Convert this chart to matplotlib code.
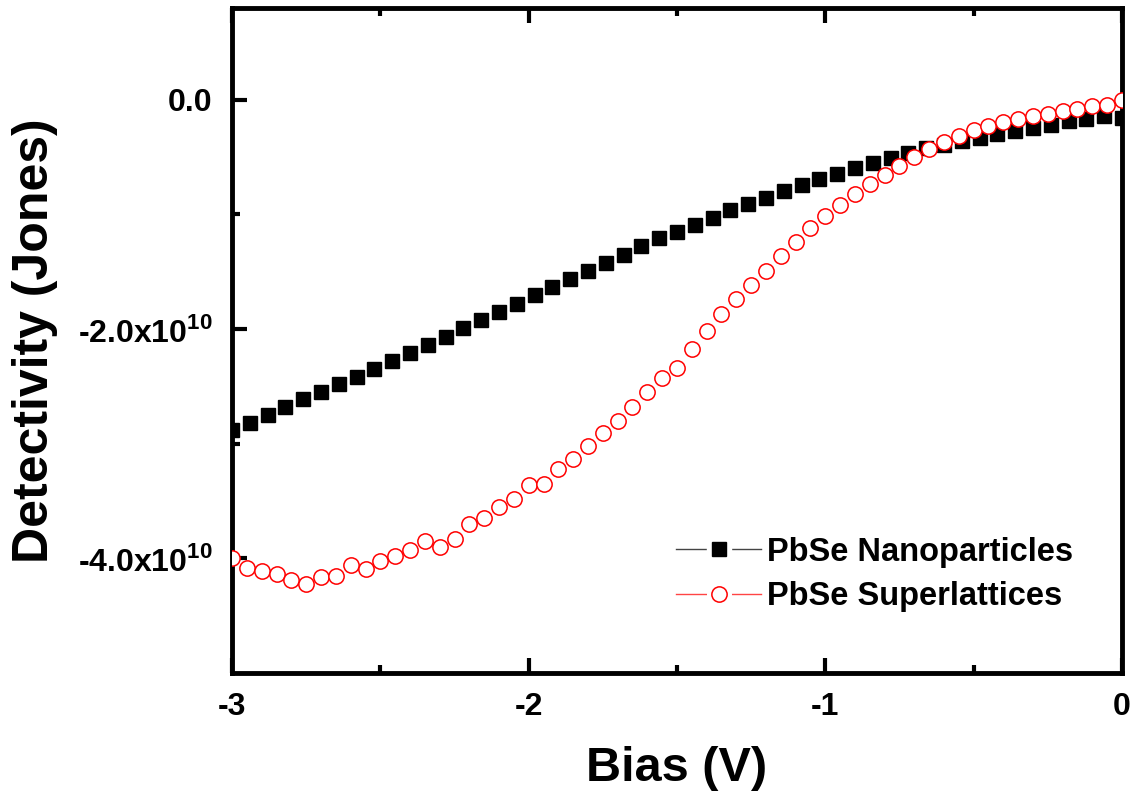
import matplotlib
matplotlib.use('Agg')
import matplotlib.pyplot as plt
from matplotlib.lines import Line2D
from matplotlib.legend_handler import HandlerTuple
from matplotlib.ticker import FixedLocator, FuncFormatter

plt.rcParams['font.family'] = ['Liberation Sans', 'DejaVu Sans']
plt.rcParams['font.weight'] = 'bold'
plt.rcParams['mathtext.fontset'] = 'custom'
plt.rcParams['mathtext.rm'] = 'Liberation Sans:bold'
plt.rcParams['mathtext.bf'] = 'Liberation Sans:bold'

# bias sweep (V)
bias_np = [-3.00, -2.94, -2.88, -2.82, -2.76, -2.70, -2.64, -2.58, -2.52, -2.46,
           -2.40, -2.34, -2.28, -2.22, -2.16, -2.10, -2.04, -1.98, -1.92, -1.86,
           -1.80, -1.74, -1.68, -1.62, -1.56, -1.50, -1.44, -1.38, -1.32, -1.26,
           -1.20, -1.14, -1.08, -1.02, -0.96, -0.90, -0.84, -0.78, -0.72, -0.66,
           -0.60, -0.54, -0.48, -0.42, -0.36, -0.30, -0.24, -0.18, -0.12, -0.06,
           0.00]
# detectivity, units of 1e10 Jones
det_np = [-2.88, -2.82, -2.75, -2.68, -2.61, -2.55, -2.48, -2.42, -2.35, -2.28,
          -2.21, -2.14, -2.07, -1.99, -1.92, -1.85, -1.78, -1.70, -1.63, -1.56,
          -1.49, -1.42, -1.35, -1.28, -1.21, -1.15, -1.09, -1.03, -0.965, -0.906,
          -0.854, -0.796, -0.741, -0.694, -0.645, -0.595, -0.552, -0.508, -0.464, -0.421,
          -0.392, -0.363, -0.334, -0.299, -0.270, -0.247, -0.218, -0.189, -0.166, -0.139,
          -0.16]

bias_sl = [-3.00, -2.95, -2.90, -2.85, -2.80, -2.75, -2.70, -2.65, -2.60, -2.55,
           -2.50, -2.45, -2.40, -2.35, -2.30, -2.25, -2.20, -2.15, -2.10, -2.05,
           -2.00, -1.95, -1.90, -1.85, -1.80, -1.75, -1.70, -1.65, -1.60, -1.55,
           -1.50, -1.45, -1.40, -1.35, -1.30, -1.25, -1.20, -1.15, -1.10, -1.05,
           -1.00, -0.95, -0.90, -0.85, -0.80, -0.75, -0.70, -0.65, -0.60, -0.55,
           -0.50, -0.45, -0.40, -0.35, -0.30, -0.25, -0.20, -0.15, -0.10, -0.05,
           0.00]
det_sl = [-4.00, -4.08, -4.11, -4.14, -4.19, -4.22, -4.16, -4.15, -4.06, -4.09,
          -4.02, -3.98, -3.93, -3.85, -3.90, -3.83, -3.70, -3.645, -3.55, -3.48,
          -3.36, -3.35, -3.22, -3.13, -3.02, -2.91, -2.80, -2.68, -2.55, -2.43,
          -2.34, -2.17, -2.02, -1.87, -1.74, -1.62, -1.49, -1.36, -1.24, -1.12,
          -1.01, -0.915, -0.822, -0.735, -0.660, -0.581, -0.499, -0.430, -0.366, -0.314,
          -0.267, -0.227, -0.197, -0.168, -0.145, -0.122, -0.102, -0.081, -0.058, -0.044,
          -0.006]

labels = ['PbSe Nanoparticles', 'PbSe Superlattices']

det_np = [v * 1e10 for v in det_np]
det_sl = [v * 1e10 for v in det_sl]

fig = plt.figure(figsize=(11.34, 8.01), dpi=100)
ax = fig.add_axes([0.2046, 0.1598, 0.7848, 0.8302])

ax.plot(bias_np, det_np, linestyle='none', marker='s', markersize=10,
        color='black', zorder=3)
ax.plot(bias_sl, det_sl, linestyle='none', marker='o', markersize=11,
        markerfacecolor='white', markeredgecolor='red', markeredgewidth=1.1, zorder=4)

ax.set_xlim(-3, 0)
ax.set_ylim(-5e10, 0.8e10)

ax.xaxis.set_major_locator(FixedLocator([-3, -2, -1, 0]))
ax.xaxis.set_minor_locator(FixedLocator([-2.5, -1.5, -0.5]))
ax.yaxis.set_major_locator(FixedLocator([0, -2e10, -4e10]))
ax.yaxis.set_minor_locator(FixedLocator([-1e10, -3e10]))


def yfmt(v, pos):
    if v == 0:
        return '0.0'
    return '%.1fx10$^{10}$' % (v / 1e10)


ax.yaxis.set_major_formatter(FuncFormatter(yfmt))
ax.xaxis.set_major_formatter(FuncFormatter(lambda v, p: '%d' % v))

ax.tick_params(which='both', direction='in', width=3, top=True, right=False,
               labelsize=23, pad=14)
ax.tick_params(which='major', length=11)
ax.tick_params(which='minor', length=6)
for s in ax.spines.values():
    s.set_linewidth(3.5)

ax.set_xlabel('Bias (V)', fontsize=35, fontweight='bold')
ax.set_ylabel('Detectivity (Jones)', fontsize=36, fontweight='bold')
ax.yaxis.set_label_coords(-0.195, 0.5)
ax.xaxis.set_label_coords(0.5, -0.11)

# legend: line broken around the symbol, like the original
line_np = Line2D([], [], color='#444444', linewidth=1)
gap_np = Line2D([], [], linestyle='none', marker='s', markersize=17,
                markerfacecolor='white', markeredgecolor='white')
sym_np = Line2D([], [], linestyle='none', marker='s', markersize=10,
                markerfacecolor='black', markeredgecolor='black')
line_sl = Line2D([], [], color='#ff4444', linewidth=1)
gap_sl = Line2D([], [], linestyle='none', marker='o', markersize=17,
                markerfacecolor='white', markeredgecolor='white')
sym_sl = Line2D([], [], linestyle='none', marker='o', markersize=11,
                markerfacecolor='white', markeredgecolor='red', markeredgewidth=1.1)

ax.legend([(line_np, gap_np, sym_np), (line_sl, gap_sl, sym_sl)], labels,
          handler_map={tuple: HandlerTuple(ndivide=1)}, numpoints=1,
          loc='upper left', bbox_to_anchor=(0.499, 0.205),
          frameon=False, fontsize=23.5, handlelength=2.6, handletextpad=0.2,
          labelspacing=0.42, borderaxespad=0, borderpad=0)

fig.savefig('out.png', dpi=100)
